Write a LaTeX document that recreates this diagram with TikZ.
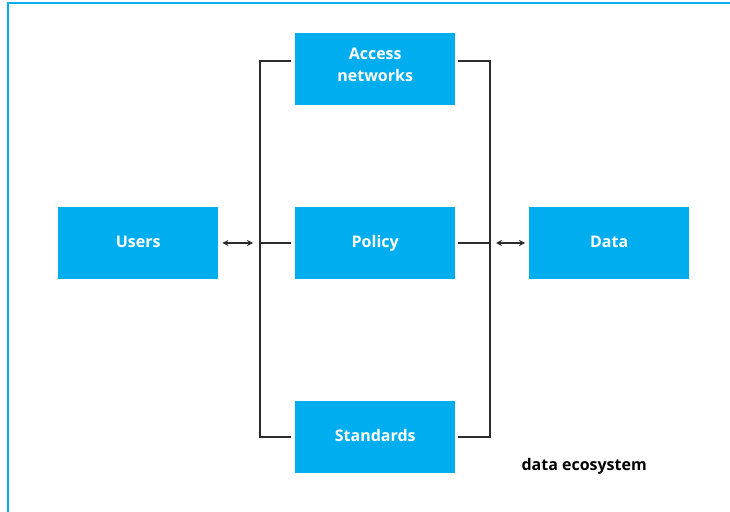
\documentclass[tikz,border=0pt]{standalone}
\usepackage{fontspec}
\setmainfont{Open Sans}
\usetikzlibrary{arrows.meta}
\definecolor{cyanbox}{HTML}{00AEEF}
\definecolor{linegray}{HTML}{2B2B2B}
\tikzset{
  box/.style={fill=cyanbox, draw=none, minimum width=160bp, minimum height=72bp, inner sep=0pt,
    text=white, font=\fontsize{16bp}{22bp}\selectfont\bfseries, align=center, anchor=north west},
  boxtext/.style={box, anchor=center, minimum width=0pt, minimum height=0pt, text height=11.5bp, text depth=0pt},
  conn/.style={draw=linegray, line width=1.3bp},
  biarrow/.style={conn, {Stealth[length=6bp,width=6bp]}-{Stealth[length=6bp,width=6bp]}},
  frameline/.style={draw=cyanbox, line width=2bp}
}
\begin{document}
\begin{tikzpicture}[x=1bp,y=-1bp]
\useasboundingbox (0,0) rectangle (730,512);
\draw[frameline] (8,515) -- (8,3) -- (735,3);
\node[box] (access) at (295,33) {};
\node[box] (policy) at (295,207) {};
\node[box] (standards) at (295,401) {};
\node[box] (users) at (58,207) {};
\node[box] (data) at (529,207) {};
\node[box, anchor=center, minimum width=0pt, minimum height=0pt] (accesstext) at ([yshift=4bp]access.center) {Access\\networks};
\node[boxtext] (policytext) at ([yshift=1.5bp]policy.center) {Policy};
\node[boxtext] (standardstext) at ([yshift=1.5bp]standards.center) {Standards};
\node[boxtext] (userstext) at ([yshift=1.5bp]users.center) {Users};
\node[boxtext] (datatext) at ([yshift=1.5bp]data.center) {Data};
\coordinate (lt) at (260,61);
\coordinate (lb) at (260,437);
\coordinate (lm) at (260,243);
\coordinate (rt) at (490,61);
\coordinate (rb) at (490,437);
\coordinate (rm) at (490,243);
% left bus
\draw[conn] ([xshift=-4bp]access.west |- lt) -- (lt) -- (lb) -- ([xshift=-4bp]standards.west |- lb);
\draw[conn] (lm) -- ([xshift=-4bp]policy.west |- lm);
\draw[biarrow] ([xshift=4bp]users.east |- lm) -- ([xshift=-7bp]lm);
% right bus
\draw[conn] ([xshift=3bp]access.east |- rt) -- (rt) -- (rb) -- ([xshift=3bp]standards.east |- rb);
\draw[conn] ([xshift=3bp]policy.east |- rm) -- (rm);
\draw[biarrow] ([xshift=6bp]rm) -- ([xshift=-4bp]data.west |- rm);
\node[font=\fontsize{16bp}{20bp}\selectfont\bfseries, text=black, anchor=west] (label) at (518,466) {data ecosystem};
\end{tikzpicture}
\end{document}
